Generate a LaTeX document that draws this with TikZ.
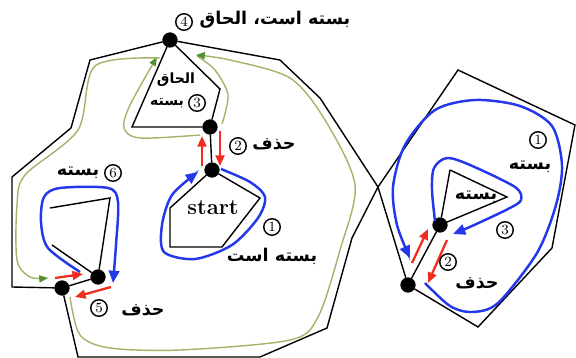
\documentclass[tikz,border=0pt]{standalone}
\usepackage{fontspec}
\newfontfamily\arabicfont[Script=Arabic]{DejaVu Sans}
\TeXXeTstate=1
\usetikzlibrary{arrows.meta}
\definecolor{myblue}{RGB}{35,55,235}
\definecolor{myred}{RGB}{240,45,30}
\definecolor{grnline}{RGB}{165,178,105}
\definecolor{grntip}{RGB}{80,145,45}

\begin{document}
\begin{tikzpicture}[x=0.02cm, y=-0.02cm,
                    dot/.style = {draw, circle, fill, inner sep=0pt, minimum size=0.29cm},
                    num/.style = {draw, circle, thick, inner sep=0pt, minimum size=0.33cm, font=\footnotesize},
                    fa/.style = {font=\fontsize{10}{12}\arabicfont\bfseries},
                    fasmall/.style = {font=\fontsize{8}{10}\arabicfont\bfseries},
                    blu/.style = {myblue, line width=1.4pt, -{Triangle[length=7pt, width=6pt]}},
                    rd/.style = {myred, line width=1.3pt, -{Triangle[length=6pt, width=5pt]}},
                    grn/.style = {grnline, line width=0.8pt}]
                        \useasboundingbox (0,0) rectangle (576,358);

                        \node[dot](1) at (170,40){};
                        \node[dot](2) at (210,127){};
                        \node[dot](3) at (212,170){};
                        \node[dot](4) at (98,277){};
                        \node[dot](5) at (62,288){};
                        \node[dot](6) at (440,225){};
                        \node[dot](7) at (408,285){};

                        % green traversal
                        \draw[grn] plot[smooth] coordinates {(222,124) (228,95) (215,70) (197,56)};
                        \draw[grn, -{Triangle[length=5pt, width=4pt, color=grntip]}] plot[smooth] coordinates {(200,135) (140,138) (124,128) (130,105) (157,57)};
                        \draw[grn, -{Triangle[length=5pt, width=4pt, color=grntip]}] plot[smooth] coordinates {(160,58) (95,66) (78,130) (25,175) (17,205) (17,260) (30,277) (48,278)};
                        \draw[grn, -{Triangle[length=5pt, width=4pt, color=grntip]}] plot[smooth] coordinates {(70,297) (80,335) (110,348) (180,350) (290,340) (318,317) (340,250) (355,185) (325,120) (290,78) (230,60) (196,55)};

                        % outlines
                        \draw[thick] (1) -- (90,60) -- (71,128) -- (12,177) -- (12,287) -- (5) -- (78,357) -- (260,357) -- (327,328) -- (352,238) -- (378,187) -- (320,98) -- (280,60) -- (1);
                        \draw[thick] (378,187) -- (458,70) -- (575,125) -- (552,248) -- (478,327) -- (7) -- (378,187);
                        \draw[thick] (1) -- (220,89) -- (2) -- (132,127) -- (1);
                        \draw[thick] (3) -- (260,198) -- (222,247) -- (170,247) -- (170,208) -- (3);
                        \draw[thick] (50,208) -- (110,198) -- (4) -- (52,245) -- cycle;
                        \draw[thick] (450,170) -- (507,197) -- (6) -- (450,170);
                        \draw[thick] (2) -- (3); \draw[thick] (4) -- (5); \draw[thick] (6) -- (7);

                        % blue loops
                        \draw[blu] plot[smooth] coordinates {(221,169) (250,182) (265,197) (258,218) (232,245) (195,259) (164,252) (162,225) (172,195) (198,172)};
                        \draw[blu] plot[smooth] coordinates {(80,272) (48,248) (41,222) (44,197) (60,188) (108,188) (118,202) (116,245) (113,283)};
                        \draw[blu] plot[smooth] coordinates {(425,283) (450,306) (472,312) (498,303) (537,253) (556,205) (562,165) (552,126) (520,106) (475,100) (435,110) (405,145) (393,187) (397,225) (410,258)};
                        \draw[blu] plot[smooth] coordinates {(435,221) (432,190) (434,168) (447,158) (470,165) (515,187) (521,200) (508,209) (472,226) (453,234)};

                        % red arrows
                        \draw[rd] (202,166) -- (202,136); \draw[rd] (220,131) -- (220,166);
                        \draw[rd] (55,278) -- (83,274); \draw[rd] (111,287) -- (75,297);
                        \draw[rd] (412,263) -- (428,229); \draw[rd] (447,240) -- (428,283);

                        % labels
                        \node[num](c4) at (184,22){4};
                        \node[fa](t4) at (275,20){\beginR بسته است، الحاق\endR};
                        \node[fasmall](t3a) at (176,80){\beginR الحاق\endR};
                        \node[fasmall](t3) at (167,103){\beginR بسته\endR};
                        \node[num](c3) at (197,103){3};
                        \node[num](c2) at (238,146){2};
                        \node[fa](t2) at (274,144){\beginR حذف\endR};
                        \node[font=\fontsize{12.5}{14}\bfseries](st) at (213,208){start};
                        \node[num](c1) at (272,227){1};
                        \node[fa](t1) at (272,256){\beginR بسته است\endR};
                        \node[fa](t6) at (78,173){\beginR بسته\endR};
                        \node[num](c6) at (113,173){6};
                        \node[num](c5) at (99,308){5};
                        \node[fa](t5) at (143,310){\beginR حذف\endR};
                        \node[num](r1) at (538,140){1};
                        \node[fa](u1) at (530,167){\beginR بسته\endR};
                        \node[fa](u3a) at (476,197){\beginR بسته\endR};
                        \node[num](r3) at (505,230){3};
                        \node[num](r2) at (448,262){2};
                        \node[fa](u2) at (477,283){\beginR حذف\endR};
                    \end{tikzpicture}
\end{document}
